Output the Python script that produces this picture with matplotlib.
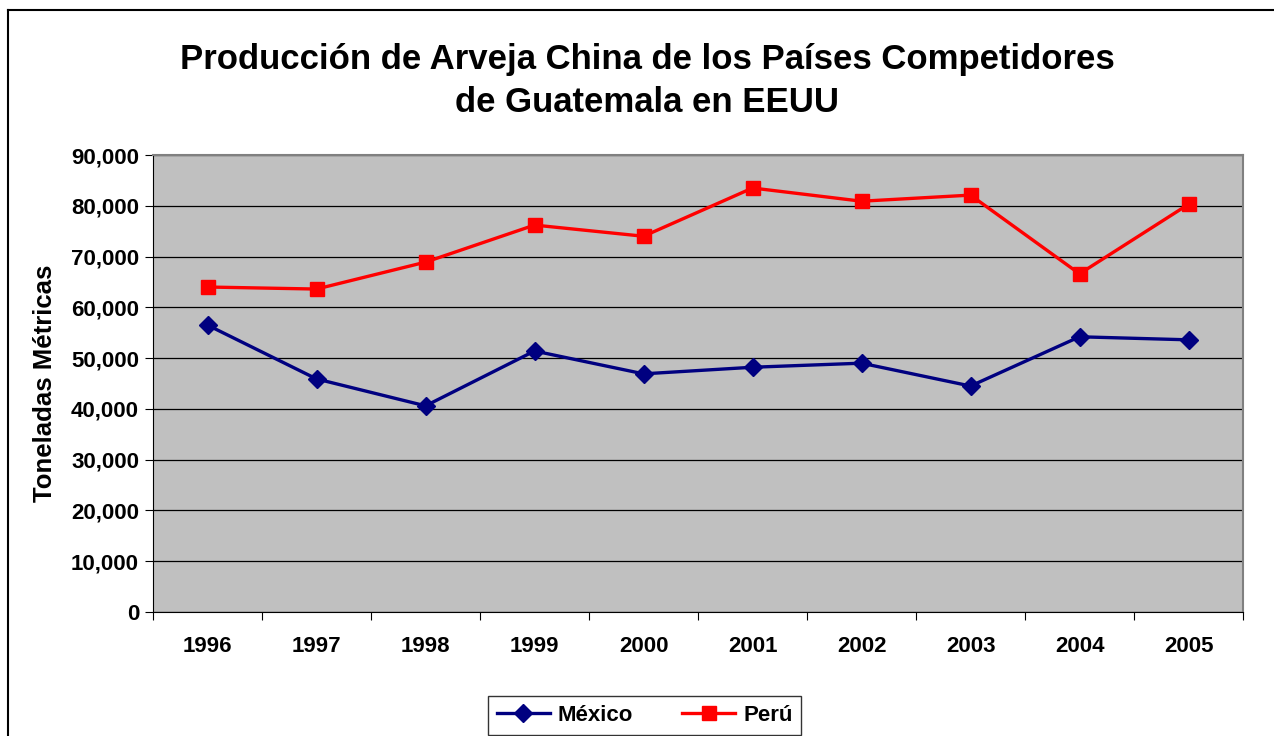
import matplotlib.pyplot as plt
from matplotlib.lines import Line2D
from matplotlib.ticker import FuncFormatter

years = ["1996", "1997", "1998", "1999", "2000", "2001", "2002", "2003", "2004", "2005"]
mexico = [56500, 45900, 40600, 51400, 46900, 48200, 49000, 44500, 54200, 53600]
peru = [64000, 63600, 68900, 76200, 74000, 83500, 80900, 82100, 66600, 80300]

plt.rcParams['font.family'] = ['Liberation Sans', 'DejaVu Sans']
plt.rcParams['font.weight'] = 'bold'

fig = plt.figure(figsize=(12.74, 7.36), dpi=100)
ax = fig.add_axes([0.1201, 0.1685, 0.8556, 0.6209])
ax.set_facecolor('#c0c0c0')

x = list(range(len(years)))
ax.plot(x, mexico, color='#000080', lw=2.4, marker='D', ms=9, label='México')
ax.plot(x, peru, color='#ff0000', lw=2.4, marker='s', ms=10, label='Perú')

ax.set_xlim(-0.5, len(years) - 0.5)
ax.set_ylim(0, 90000)
ax.set_yticks(range(0, 90001, 10000))
ax.yaxis.set_major_formatter(FuncFormatter(lambda v, p: f"{int(v):,}"))
ax.yaxis.grid(True, color='black', lw=0.9)
ax.set_axisbelow(True)

# category boundaries get tick marks, labels sit in between
ax.set_xticks([i - 0.5 for i in range(len(years) + 1)])
ax.set_xticklabels([])
ax.set_xticks(x, minor=True)
ax.set_xticklabels(years, minor=True)
ax.tick_params(axis='x', which='major', length=6, direction='out', color='black')
ax.tick_params(axis='x', which='minor', length=0, pad=17, labelsize=16)
ax.tick_params(axis='y', length=6, direction='out', pad=4, labelsize=16)

for s in ['top', 'right']:
    ax.spines[s].set_color('#808080')
    ax.spines[s].set_linewidth(1.5)
for s in ['left', 'bottom']:
    ax.spines[s].set_color('black')

ax.set_ylabel('Toneladas Métricas', fontsize=18.5, fontweight='heavy', labelpad=10)

fig.text(0.508, 0.89, 'Producción de Arveja China de los Países Competidores\nde Guatemala en EEUU',
         ha='center', va='center', fontsize=25, fontweight='bold', linespacing=1.38)

leg = ax.legend(loc='center', bbox_to_anchor=(0.451, -0.227), ncol=2, fontsize=16,
                frameon=True, fancybox=False, edgecolor='black', handlelength=2.4,
                handletextpad=0.35, columnspacing=2.2, borderpad=0.4, borderaxespad=0)
leg.get_frame().set_linewidth(1.0)

# outer chart border (only top and left visible in the crop)
fig.add_artist(Line2D([0.0063, 0.0063], [0, 0.987], color='black', lw=1.5, transform=fig.transFigure))
fig.add_artist(Line2D([0.0063, 1.0], [0.987, 0.987], color='black', lw=1.5, transform=fig.transFigure))

fig.savefig('out.png', dpi=100)
